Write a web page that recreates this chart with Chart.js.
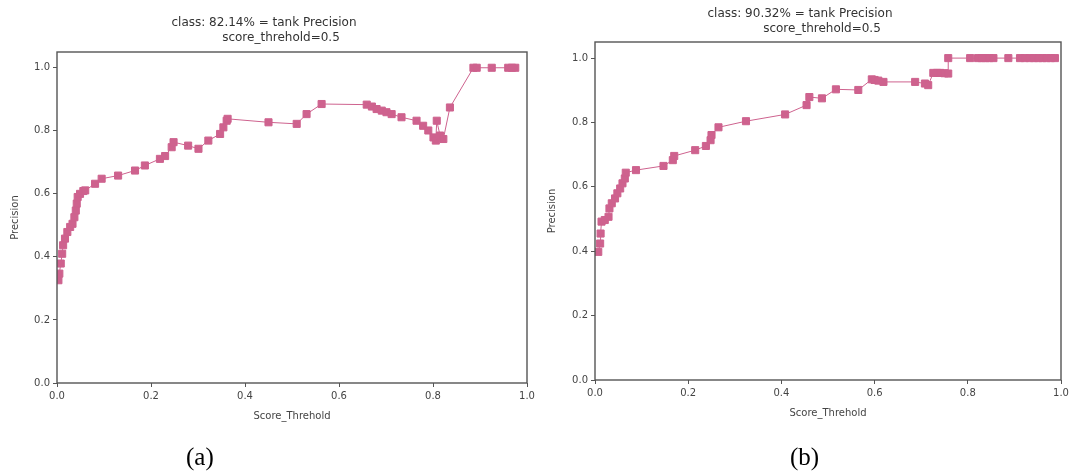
<!DOCTYPE html>
<html>
<head>
<meta charset="utf-8">
<script src="https://cdn.jsdelivr.net/npm/chart.js@4"></script>
<style>
  body { margin: 0; background: #fff; width: 1075px; height: 474px; position: relative; overflow: hidden; }
  canvas { position: absolute; top: 0; }
  #chartA { left: 0; }
  #chartB { left: 540px; }
  .cap { position: absolute; top: 443px; font-family: "Liberation Serif", serif; font-size: 25px; color: #000; }
</style>
</head>
<body>
<canvas id="chartA" width="540" height="474"></canvas>
<canvas id="chartB" width="535" height="474"></canvas>
<div class="cap" style="left:186px">(a)</div>
<div class="cap" style="left:790px">(b)</div>
<script>
// eje compartido
const xTicks = [0, 0.2, 0.4, 0.6, 0.8, 1.0];
const yTicks = [0, 0.2, 0.4, 0.6, 0.8, 1.0];

// (a)
const aTitle = ["class: 82.14% = tank Precision", "score_threhold=0.5"];
const aScore = [0.003, 0.005, 0.008, 0.011, 0.013, 0.017, 0.022, 0.028, 0.033, 0.037, 0.040, 0.042, 0.044, 0.049, 0.056,
  0.060, 0.081, 0.095, 0.130, 0.166, 0.187, 0.219, 0.230, 0.244, 0.248, 0.279, 0.301, 0.322, 0.347, 0.354, 0.361, 0.363,
  0.450, 0.510, 0.531, 0.563, 0.659, 0.670, 0.680, 0.691, 0.701, 0.712, 0.733, 0.765, 0.779, 0.790, 0.801, 0.806, 0.808,
  0.815, 0.822, 0.836, 0.886, 0.893, 0.925, 0.960, 0.968, 0.975];
const aPrecision = [0.326, 0.347, 0.379, 0.410, 0.437, 0.458, 0.479, 0.495, 0.505, 0.526, 0.547, 0.569, 0.590, 0.600, 0.609,
  0.611, 0.632, 0.648, 0.658, 0.674, 0.690, 0.711, 0.720, 0.748, 0.764, 0.753, 0.743, 0.769, 0.790, 0.811, 0.832, 0.838,
  0.827, 0.822, 0.853, 0.885, 0.883, 0.877, 0.869, 0.864, 0.859, 0.853, 0.843, 0.832, 0.816, 0.801, 0.779, 0.769, 0.832,
  0.785, 0.774, 0.874, 1.0, 1.0, 1.0, 1.0, 1.0, 1.0];

// (b)
const bTitle = ["class: 90.32% = tank Precision", "score_threhold=0.5"];
const bScore = [0.007, 0.011, 0.012, 0.014, 0.021, 0.029, 0.031, 0.036, 0.043, 0.048, 0.054, 0.059, 0.064, 0.066,
  0.088, 0.147, 0.167, 0.170, 0.215, 0.238, 0.248, 0.250, 0.265, 0.324, 0.408, 0.454, 0.460, 0.487, 0.517, 0.565,
  0.594, 0.600, 0.608, 0.619, 0.687, 0.708, 0.715, 0.726, 0.734, 0.741, 0.750, 0.758, 0.758, 0.805, 0.822, 0.830,
  0.838, 0.846, 0.855, 0.887, 0.912, 0.922, 0.933, 0.942, 0.951, 0.960, 0.969, 0.978, 0.987];
const bPrecision = [0.398, 0.424, 0.455, 0.492, 0.497, 0.507, 0.533, 0.549, 0.564, 0.580, 0.595, 0.611, 0.626, 0.644,
  0.652, 0.665, 0.683, 0.696, 0.714, 0.727, 0.745, 0.761, 0.785, 0.804, 0.825, 0.854, 0.879, 0.875, 0.903, 0.901,
  0.934, 0.932, 0.930, 0.926, 0.926, 0.921, 0.916, 0.954, 0.954, 0.954, 0.953, 0.952, 1.0, 1.0, 1.0, 1.0,
  1.0, 1.0, 1.0, 1.0, 1.0, 1.0, 1.0, 1.0, 1.0, 1.0, 1.0, 1.0, 1.0];

const PINK = "rgb(206, 98, 142)";
const FRAME = "#555";

// titulos en dos lineas, cada una con su x
const titleLines = {
  id: "titleLines",
  afterDraw(chart, args, opts) {
    const ctx = chart.ctx;
    ctx.save();
    ctx.fillStyle = "#333";
    ctx.font = "12px 'DejaVu Sans'";
    ctx.textAlign = "center";
    ctx.textBaseline = "middle";
    opts.lines.forEach((l) => ctx.fillText(l.text, l.x, l.y));
    ctx.restore();
  },
};

// marco alrededor del area
const frame = {
  id: "frame",
  afterDraw(chart) {
    const { left, top, right, bottom } = chart.chartArea;
    const ctx = chart.ctx;
    ctx.save();
    ctx.strokeStyle = FRAME;
    ctx.lineWidth = 1.4;
    ctx.strokeRect(left, top, right - left, bottom - top);
    ctx.restore();
  },
};

function makeChart(id, xs, ys, title, cfg) {
  const points = xs.map((x, i) => ({ x, y: ys[i] }));
  return new Chart(document.getElementById(id), {
    type: "line",
    data: {
      datasets: [{
        data: points,
        borderColor: PINK,
        backgroundColor: PINK,
        borderWidth: 1,
        pointStyle: "rect",
        pointRadius: 5,
        pointBorderWidth: 1,
        pointBorderColor: PINK,
        pointBackgroundColor: PINK,
        tension: 0,
      }],
    },
    options: {
      responsive: false,
      animation: false,
      layout: { padding: cfg.padding },
      plugins: {
        legend: { display: false },
        tooltip: { enabled: false },
        titleLines: {
          lines: [
            { text: title[0], x: cfg.t1x, y: cfg.t1y },
            { text: title[1], x: cfg.t2x, y: cfg.t2y },
          ],
        },
      },
      scales: {
        x: {
          type: "linear",
          min: 0,
          max: 1,
          afterBuildTicks: (s) => { s.ticks = xTicks.map((v) => ({ value: v })); },
          afterFit: (s) => { s.height = 40; },
          grid: { drawOnChartArea: false, drawTicks: true, tickLength: 4, color: FRAME },
          border: { display: false },
          ticks: {
            padding: 3,
            color: "#444",
            font: { family: "DejaVu Sans", size: 10 },
            maxRotation: 0,
            callback: (v) => Number(v).toFixed(1),
          },
          title: {
            display: true,
            text: "Score_Threhold",
            color: "#444",
            font: { family: "DejaVu Sans", size: 10 },
            padding: { top: 0, bottom: cfg.xTitlePad },
          },
        },
        y: {
          min: 0,
          max: 1.05,
          afterBuildTicks: (s) => { s.ticks = yTicks.map((v) => ({ value: v })); },
          afterFit: (s) => { s.width = cfg.yWidth; },
          grid: { drawOnChartArea: false, drawTicks: true, tickLength: 4, color: FRAME },
          border: { display: false },
          ticks: {
            padding: 3,
            color: "#444",
            font: { family: "DejaVu Sans", size: 10 },
            callback: (v) => Number(v).toFixed(1),
          },
          title: {
            display: true,
            text: "Precision",
            color: "#444",
            font: { family: "DejaVu Sans", size: 10 },
            padding: { top: cfg.yTitlePad, bottom: 0 },
          },
        },
      },
    },
    plugins: [titleLines, frame],
  });
}

makeChart("chartA", aScore, aPrecision, aTitle, {
  padding: { left: 0, right: 13, top: 52, bottom: 51 },
  yWidth: 57,
  yTitlePad: 9,
  xTitlePad: 1,
  t1x: 264, t1y: 23, t2x: 281, t2y: 38,
});

makeChart("chartB", bScore, bPrecision, bTitle, {
  padding: { left: 0, right: 14, top: 42, bottom: 54 },
  yWidth: 55,
  yTitlePad: 6,
  xTitlePad: 1,
  t1x: 260, t1y: 14, t2x: 282, t2y: 29,
});
</script>
</body>
</html>
